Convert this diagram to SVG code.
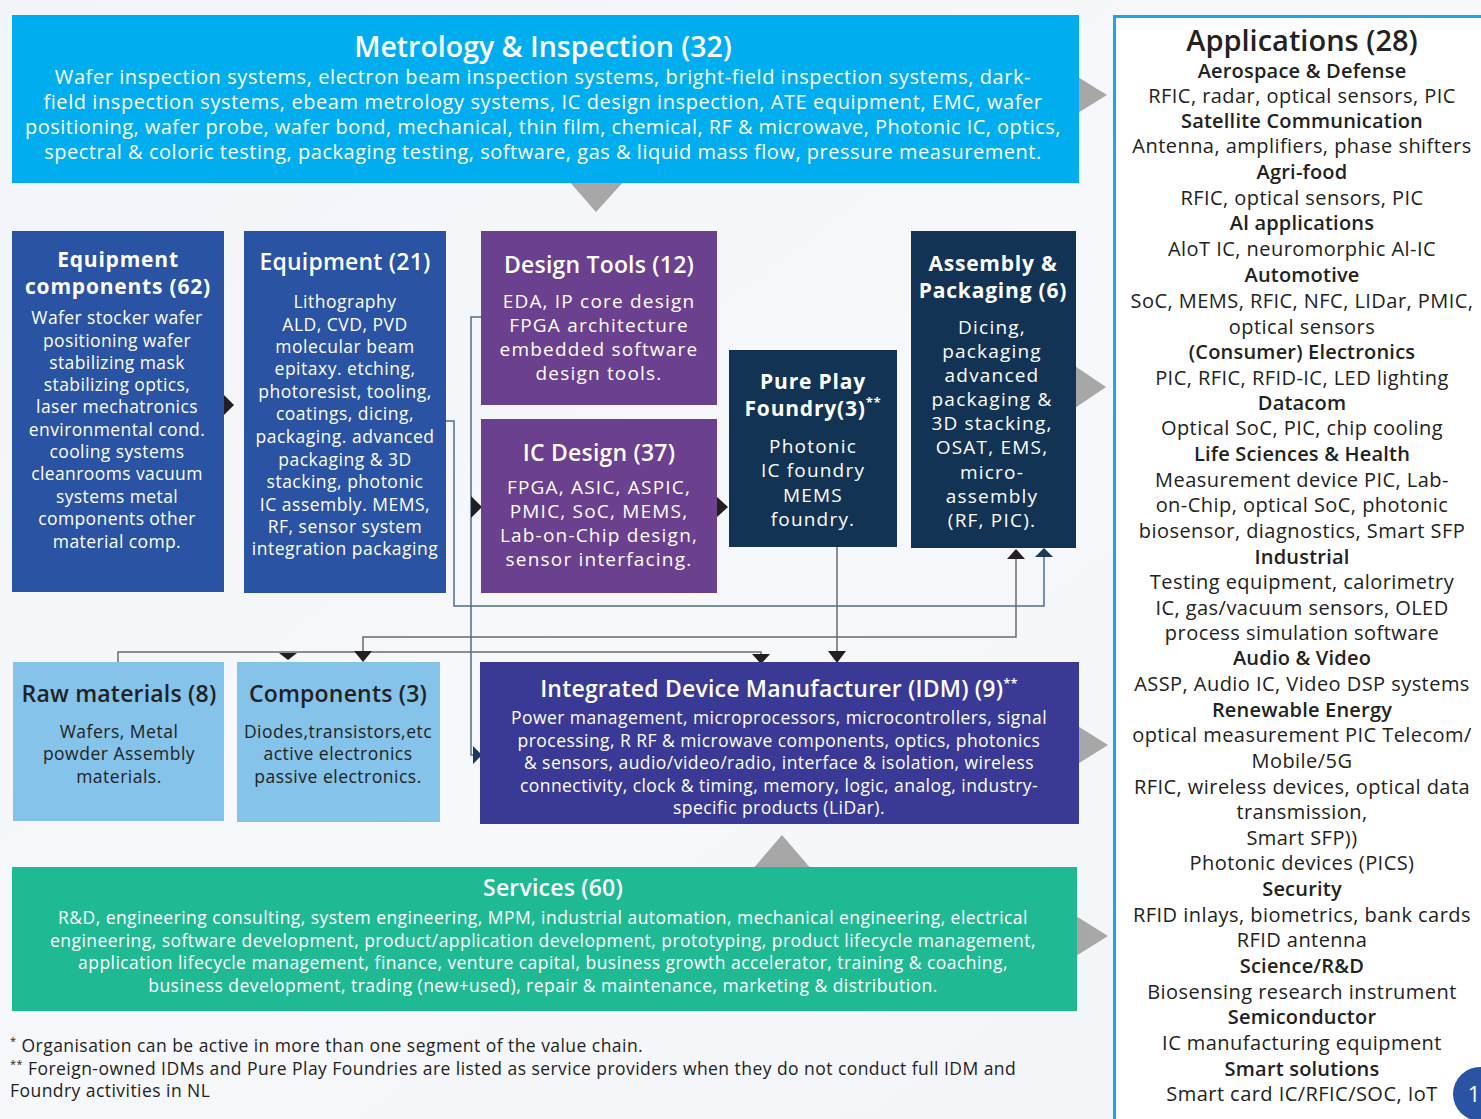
<svg xmlns="http://www.w3.org/2000/svg" width="1481" height="1119" viewBox="0 0 1481 1119">
<defs>
<linearGradient id="bg" x1="0" y1="0" x2="1" y2="1">
<stop offset="0" stop-color="#F1F4F9"/><stop offset="0.5" stop-color="#F7F8FB"/><stop offset="1" stop-color="#F2F4F8"/>
</linearGradient>
<style>
text{font-family:"Open Sans","Liberation Sans",sans-serif;text-anchor:middle}
.w{fill:#FFFFFF}
.d{fill:#222222}
.h29{font-size:29px;font-weight:600}
.h28{font-size:28.5px;font-weight:600}
.h23{font-size:23px;font-weight:600;letter-spacing:0.2px}
.t21{font-size:21px;font-weight:700;letter-spacing:0.8px}
.m20{font-size:20px;letter-spacing:0.58px}
.a20{font-size:20px;letter-spacing:0.45px}
.b19{font-size:19px;letter-spacing:1.2px}
.e17{font-size:17.5px;letter-spacing:0.4px}
.q17{font-size:17.5px;letter-spacing:0.5px}
.s17{font-size:17.5px;letter-spacing:0.45px}
.bold{font-weight:600;letter-spacing:0.2px}
.gl{fill:none;stroke:#6B6B6B;stroke-width:1.5}
.bl{fill:none;stroke:#4F6D8A;stroke-width:1.5}
.ah{fill:#231F20}
.ahn{fill:#1E3A5A}
.gt{fill:#A7A7A7}
.left{text-anchor:start}
</style>
</defs>
<rect width="1481" height="1119" fill="url(#bg)"/>

<g id="bigarrows">
<polygon class="gt" points="1060,66 1107,95 1060,124"/>
<polygon class="gt" points="568,180 625,180 596,212"/>
<polygon class="gt" points="1060,356 1106,387 1060,418"/>
<polygon class="gt" points="1060,715 1108,745 1060,775"/>
<polygon class="gt" points="1060,906 1108,936 1060,966"/>
<polygon class="gt" points="752,870 782,835 812,870"/>
</g>

<g id="connectors">
<polyline class="bl" points="446,421 454,421 454,606 1044,606 1044,556"/>
<polygon class="ahn" points="1035,557 1044,548 1053,557"/>
<polyline class="bl" points="481,317 471,317 471,755 474,755"/>
<polygon class="ahn" points="473,746 482,755 473,764"/>
<polyline class="gl" points="118,662 118,652 761,652 761,656"/>
<polygon class="ah" points="752,654 770,654 761,664"/>
<polygon class="ah" points="279,653 297,653 288,660"/>
<polyline class="gl" points="1016,558 1016,637 363,637 363,653"/>
<polygon class="ah" points="1007,559 1016,549 1025,559"/>
<polygon class="ah" points="354,651 372,651 363,662"/>
<line class="gl" x1="837" y1="547" x2="837" y2="653"/>
<polygon class="ah" points="828,651 846,651 837,663"/>
<polygon class="ah" points="223,394 234,405 223,416"/>
<polygon class="ah" points="471,496 482,507 471,518"/>
<polygon class="ah" points="716,496 728,507 716,518"/>
</g>

<g id="metrology">
<rect x="12" y="15" width="1067" height="168" fill="#00AEEF"/>
<text class="w h28" x="543" y="57">Metrology &amp; Inspection (32)</text>
<text class="w m20"><tspan x="543" y="84">Wafer inspection systems, electron beam inspection systems, bright-field inspection systems, dark-</tspan><tspan x="543" y="109">field inspection systems, ebeam metrology systems, IC design inspection, ATE equipment, EMC, wafer</tspan><tspan x="543" y="134" letter-spacing="0.45">positioning, wafer probe, wafer bond, mechanical, thin film, chemical, RF &amp; microwave, Photonic IC, optics,</tspan><tspan x="543" y="159" letter-spacing="0.52">spectral &amp; coloric testing, packaging testing, software, gas &amp; liquid mass flow, pressure measurement.</tspan></text>
</g>

<g id="equipment-components">
<rect x="12" y="231" width="212" height="361" fill="#2A53A3"/>
<text class="w t21"><tspan x="118" y="267">Equipment</tspan><tspan x="118" y="294">components (62)</tspan></text>
<text class="w e17"><tspan x="117" y="324">Wafer stocker wafer</tspan><tspan x="117" y="347">positioning wafer</tspan><tspan x="117" y="369">stabilizing mask</tspan><tspan x="117" y="391">stabilizing optics,</tspan><tspan x="117" y="413">laser mechatronics</tspan><tspan x="117" y="436">environmental cond.</tspan><tspan x="117" y="458">cooling systems</tspan><tspan x="117" y="480">cleanrooms vacuum</tspan><tspan x="117" y="503">systems metal</tspan><tspan x="117" y="525">components other</tspan><tspan x="117" y="548">material comp.</tspan></text>
</g>

<g id="equipment">
<rect x="244" y="231" width="202" height="362" fill="#2A53A3"/>
<text class="w h23" x="345" y="270">Equipment (21)</text>
<text class="w q17"><tspan x="345" y="308">Lithography</tspan><tspan x="345" y="331">ALD, CVD, PVD</tspan><tspan x="345" y="353">molecular beam</tspan><tspan x="345" y="375">epitaxy. etching,</tspan><tspan x="345" y="398">photoresist, tooling,</tspan><tspan x="345" y="420">coatings, dicing,</tspan><tspan x="345" y="443">packaging. advanced</tspan><tspan x="345" y="466">packaging &amp; 3D</tspan><tspan x="345" y="488">stacking, photonic</tspan><tspan x="345" y="511">IC assembly. MEMS,</tspan><tspan x="345" y="533">RF, sensor system</tspan><tspan x="345" y="555">integration packaging</tspan></text>
</g>

<g id="design-tools">
<rect x="481" y="231" width="236" height="174" fill="#6B408E"/>
<text class="w h23" x="599" y="273">Design Tools (12)</text>
<text class="w b19"><tspan x="599" y="308">EDA, IP core design</tspan><tspan x="599" y="332">FPGA architecture</tspan><tspan x="599" y="356">embedded software</tspan><tspan x="599" y="380">design tools.</tspan></text>
</g>

<g id="ic-design">
<rect x="481" y="419" width="236" height="174" fill="#6B408E"/>
<text class="w h23" x="599" y="461">IC Design (37)</text>
<text class="w b19"><tspan x="599" y="494">FPGA, ASIC, ASPIC,</tspan><tspan x="599" y="518">PMIC, SoC, MEMS,</tspan><tspan x="599" y="542">Lab-on-Chip design,</tspan><tspan x="599" y="566">sensor interfacing.</tspan></text>
</g>

<g id="pure-play-foundry">
<rect x="729" y="350" width="168" height="197" fill="#133355"/>
<text class="w t21"><tspan x="813" y="389">Pure Play</tspan><tspan x="813" y="416">Foundry(3)</tspan><tspan font-size="13" dy="-9">**</tspan></text>
<text class="w b19"><tspan x="813" y="453">Photonic</tspan><tspan x="813" y="477">IC foundry</tspan><tspan x="813" y="502">MEMS</tspan><tspan x="813" y="526">foundry.</tspan></text>
</g>

<g id="assembly-packaging">
<rect x="911" y="231" width="165" height="317" fill="#133355"/>
<text class="w t21"><tspan x="993" y="271">Assembly &amp;</tspan><tspan x="993" y="298">Packaging (6)</tspan></text>
<text class="w b19"><tspan x="992" y="334">Dicing,</tspan><tspan x="992" y="358">packaging</tspan><tspan x="992" y="382">advanced</tspan><tspan x="992" y="406">packaging &amp;</tspan><tspan x="992" y="430">3D stacking,</tspan><tspan x="992" y="454">OSAT, EMS,</tspan><tspan x="992" y="479">micro-</tspan><tspan x="992" y="503">assembly</tspan><tspan x="992" y="527">(RF, PIC).</tspan></text>
</g>

<g id="raw-materials">
<rect x="13" y="662" width="211" height="159" fill="#85C3EA"/>
<text class="d h23" x="119" y="702">Raw materials (8)</text>
<text class="d q17"><tspan x="119" y="738">Wafers, Metal</tspan><tspan x="119" y="760">powder Assembly</tspan><tspan x="119" y="783">materials.</tspan></text>
</g>

<g id="components">
<rect x="237" y="662" width="203" height="160" fill="#85C3EA"/>
<text class="d h23" x="338" y="702">Components (3)</text>
<text class="d q17"><tspan x="338" y="738">Diodes,transistors,etc</tspan><tspan x="338" y="760">active electronics</tspan><tspan x="338" y="783">passive electronics.</tspan></text>
</g>

<g id="idm">
<rect x="480" y="662" width="599" height="162" fill="#3A3A96"/>
<text class="w h23" x="779" y="697">Integrated Device Manufacturer (IDM) (9)<tspan font-size="13" dy="-9">**</tspan></text>
<text class="w s17"><tspan x="779" y="724">Power management, microprocessors, microcontrollers, signal</tspan><tspan x="779" y="747">processing, R RF &amp; microwave components, optics, photonics</tspan><tspan x="779" y="769">&amp; sensors, audio/video/radio, interface &amp; isolation, wireless</tspan><tspan x="779" y="792">connectivity, clock &amp; timing, memory, logic, analog, industry-</tspan><tspan x="779" y="814">specific products (LiDar).</tspan></text>
</g>

<g id="services">
<rect x="12" y="867" width="1065" height="144" fill="#1FBA93"/>
<text class="w h23" x="553" y="896">Services (60)</text>
<text class="w s17"><tspan x="543" y="924">R&amp;D, engineering consulting, system engineering, MPM, industrial automation, mechanical engineering, electrical</tspan><tspan x="543" y="947">engineering, software development, product/application development, prototyping, product lifecycle management,</tspan><tspan x="543" y="969">application lifecycle management, finance, venture capital, business growth accelerator, training &amp; coaching,</tspan><tspan x="543" y="992">business development, trading (new+used), repair &amp; maintenance, marketing &amp; distribution.</tspan></text>
</g>

<g id="footnotes">
<text class="d s17 left"><tspan x="10" y="1045" font-size="11">*</tspan><tspan y="1052"> Organisation can be active in more than one segment of the value chain.</tspan></text>
<text class="d s17 left"><tspan x="10" y="1068" font-size="11">**</tspan><tspan y="1075"> Foreign-owned IDMs and Pure Play Foundries are listed as service providers when they do not conduct full IDM and</tspan></text>
<text class="d s17 left" x="10" y="1097">Foundry activities in NL</text>
</g>

<g id="applications">
<rect x="1114.5" y="16.5" width="380" height="1120" fill="#FFFFFF" stroke="#1CA8E3" stroke-width="3"/>
<text class="d h29" x="1302" y="51">Applications (28)</text>
<text class="d a20"><tspan class="bold" x="1302" y="78">Aerospace &amp; Defense</tspan><tspan x="1302" y="103">RFIC, radar, optical sensors, PIC</tspan><tspan class="bold" x="1302" y="128">Satellite Communication</tspan><tspan x="1302" y="153">Antenna, amplifiers, phase shifters</tspan><tspan class="bold" x="1302" y="179">Agri-food</tspan><tspan x="1302" y="205">RFIC, optical sensors, PIC</tspan><tspan class="bold" x="1302" y="230">Al applications</tspan><tspan x="1302" y="256">AloT IC, neuromorphic Al-IC</tspan><tspan class="bold" x="1302" y="282">Automotive</tspan><tspan x="1302" y="308">SoC, MEMS, RFIC, NFC, LIDar, PMIC,</tspan><tspan x="1302" y="334">optical sensors</tspan><tspan class="bold" x="1302" y="359">(Consumer) Electronics</tspan><tspan x="1302" y="385">PIC, RFIC, RFID-IC, LED lighting</tspan><tspan class="bold" x="1302" y="410">Datacom</tspan><tspan x="1302" y="435">Optical SoC, PIC, chip cooling</tspan><tspan class="bold" x="1302" y="461">Life Sciences &amp; Health</tspan><tspan x="1302" y="487">Measurement device PIC, Lab-</tspan><tspan x="1302" y="512">on-Chip, optical SoC, photonic</tspan><tspan x="1302" y="538">biosensor, diagnostics, Smart SFP</tspan><tspan class="bold" x="1302" y="564">Industrial</tspan><tspan x="1302" y="589">Testing equipment, calorimetry</tspan><tspan x="1302" y="615">IC, gas/vacuum sensors, OLED</tspan><tspan x="1302" y="640">process simulation software</tspan><tspan class="bold" x="1302" y="665">Audio &amp; Video</tspan><tspan x="1302" y="691">ASSP, Audio IC, Video DSP systems</tspan><tspan class="bold" x="1302" y="717">Renewable Energy</tspan><tspan x="1302" y="742">optical measurement PIC Telecom/</tspan><tspan x="1302" y="768">Mobile/5G</tspan><tspan x="1302" y="794">RFIC, wireless devices, optical data</tspan><tspan x="1302" y="819">transmission,</tspan><tspan x="1302" y="845">Smart SFP))</tspan><tspan x="1302" y="870">Photonic devices (PICS)</tspan><tspan class="bold" x="1302" y="896">Security</tspan><tspan x="1302" y="922">RFID inlays, biometrics, bank cards</tspan><tspan x="1302" y="947">RFID antenna</tspan><tspan class="bold" x="1302" y="973">Science/R&amp;D</tspan><tspan x="1302" y="999">Biosensing research instrument</tspan><tspan class="bold" x="1302" y="1024">Semiconductor</tspan><tspan x="1302" y="1050">IC manufacturing equipment</tspan><tspan class="bold" x="1302" y="1076">Smart solutions</tspan><tspan x="1302" y="1101">Smart card IC/RFIC/SOC, IoT</tspan></text>
</g>

<g id="page-badge">
<circle cx="1480" cy="1094" r="27" fill="#2A53A3"/>
<text class="w" font-size="22" x="1474" y="1102">1</text>
</g>
</svg>
